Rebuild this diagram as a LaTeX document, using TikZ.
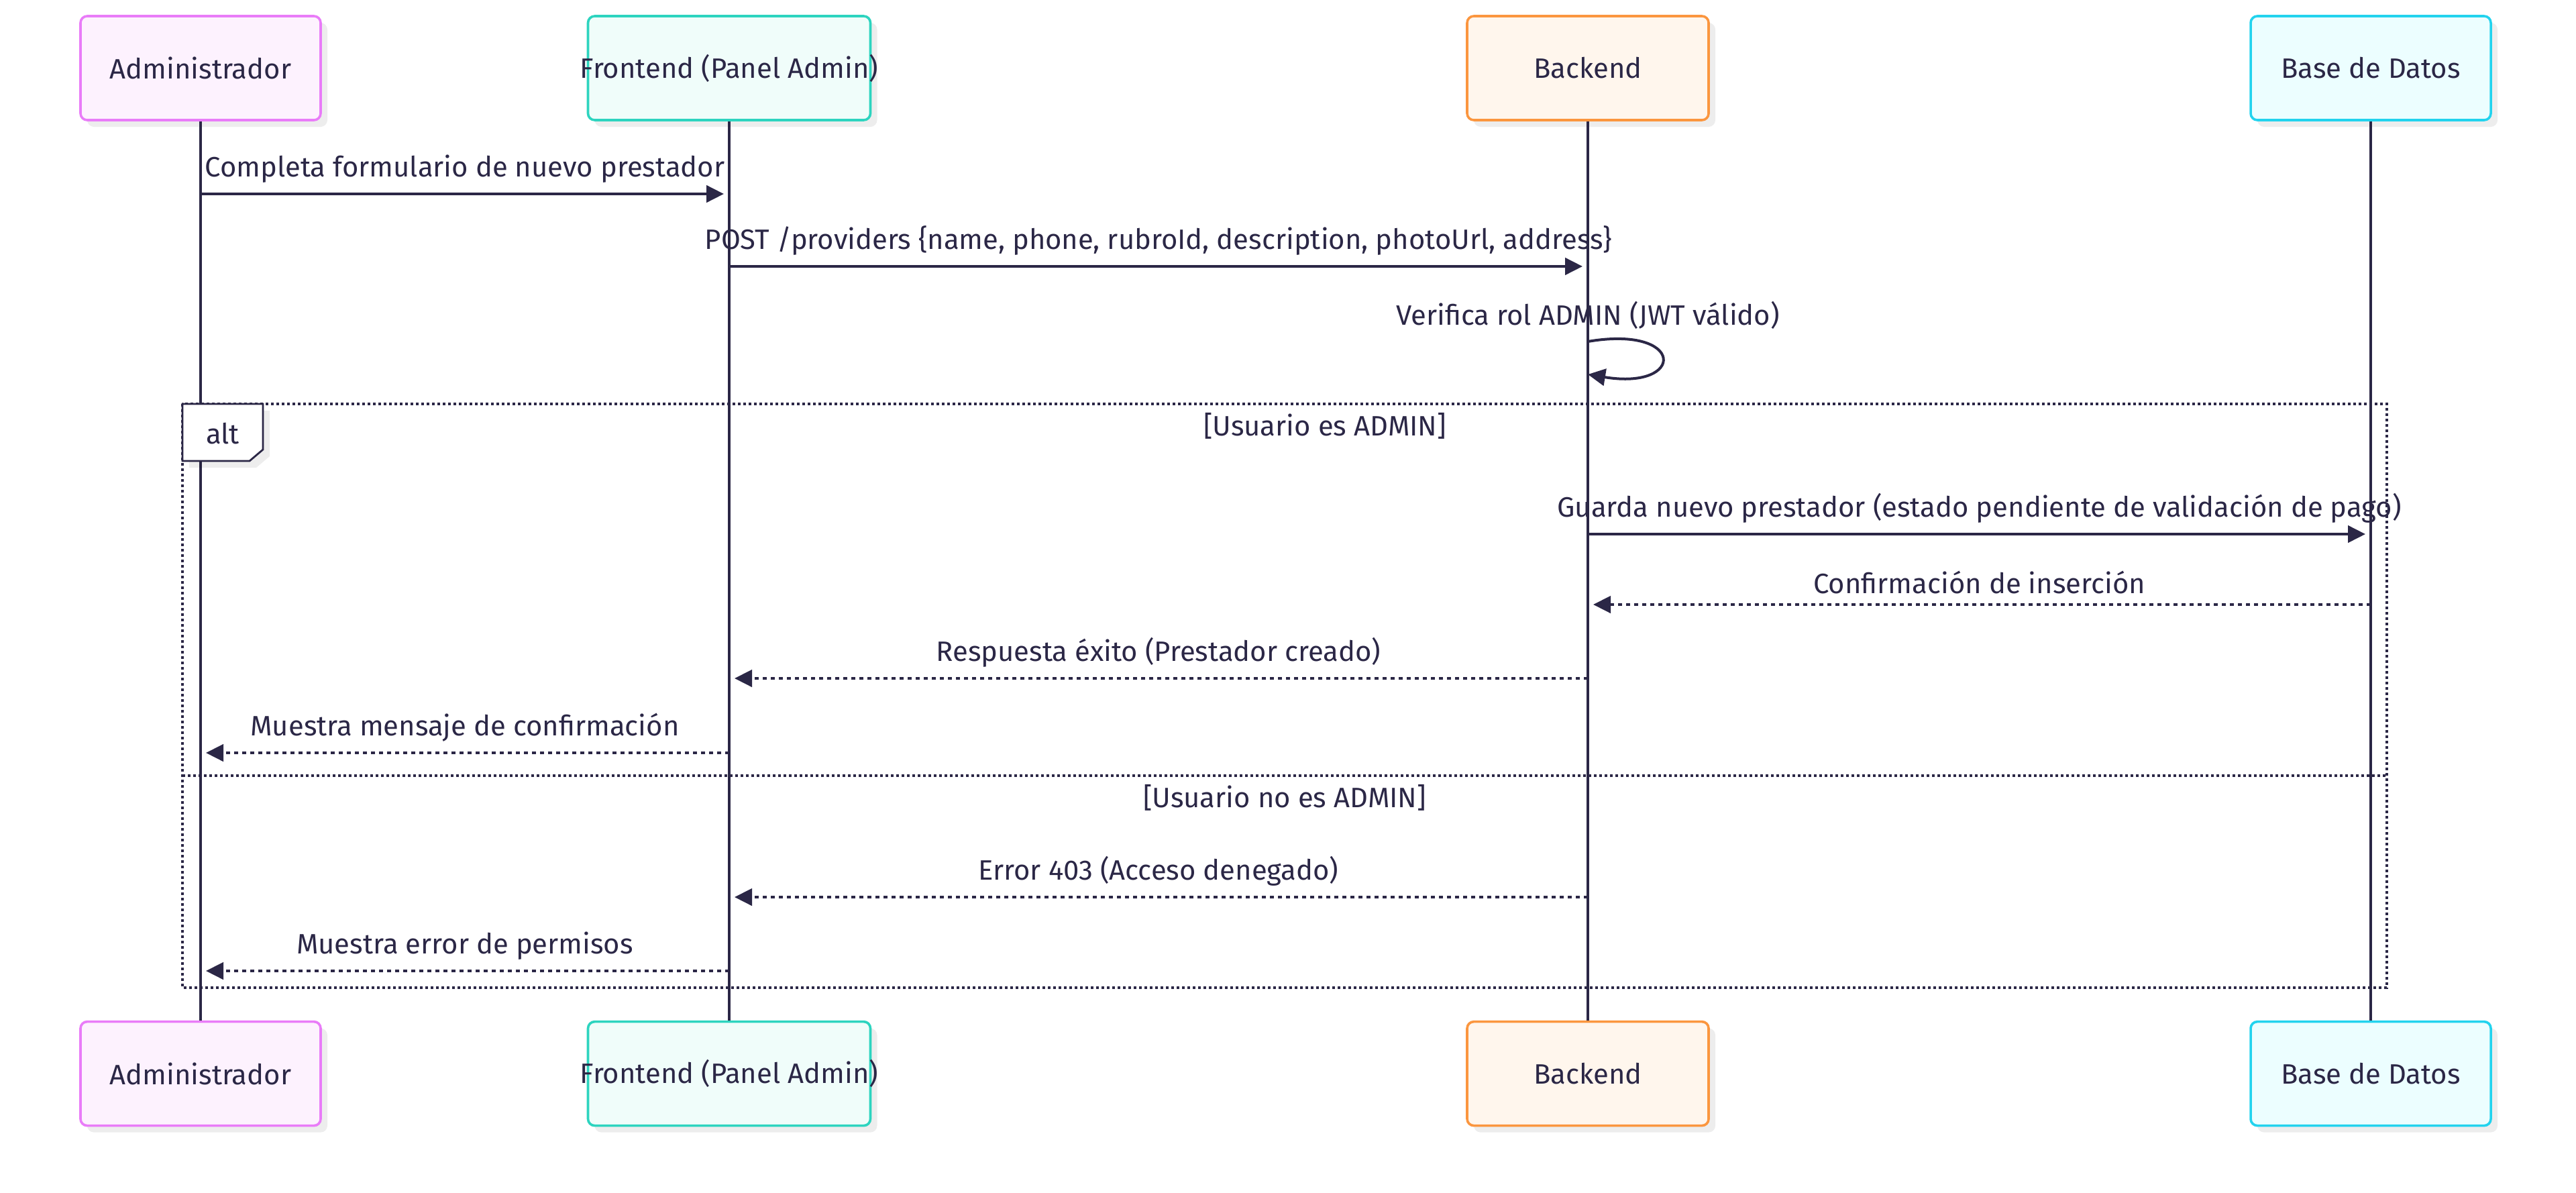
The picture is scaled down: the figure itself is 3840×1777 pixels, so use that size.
\documentclass[tikz,border=0pt]{standalone}
\usepackage{fontspec}
\setmainfont{Fira Sans}
\usepackage{tikz}
\usetikzlibrary{positioning,calc,arrows.meta,shadows}

\definecolor{ink}{HTML}{2B2746}
\definecolor{admline}{HTML}{E97CF8}
\definecolor{admfill}{HTML}{FDF2FE}
\definecolor{frontline}{HTML}{2DD4BF}
\definecolor{frontfill}{HTML}{F0FDFA}
\definecolor{backline}{HTML}{FB963F}
\definecolor{backfill}{HTML}{FFF6ED}
\definecolor{dbline}{HTML}{22D3EE}
\definecolor{dbfill}{HTML}{ECFEFF}

\begin{document}
\begin{tikzpicture}[
x=0.25pt, y=-0.25pt,
font=\fontsize{10.45}{12.5}\selectfont,
actor/.style={
draw,
rounded corners=2.5pt,
line width=0.9pt,
text=ink,
align=center,
minimum width=89.5pt,
minimum height=38.75pt,
drop shadow={shadow xshift=2.5pt, shadow yshift=-2.5pt, fill=black, opacity=0.07}
},
lifeline/.style={
draw=ink,
line width=1.1pt
},
msg/.style={
draw=ink,
line width=1pt,
-{Triangle[length=6.5pt, width=6.3pt]},
shorten >=2pt
},
reply/.style={
msg,
dash pattern=on 1.6pt off 1.4pt
},
lbl/.style={
text=ink,
inner sep=0pt,
above=3.6pt
},
frame/.style={
draw=ink,
line width=0.8pt,
dash pattern=on 1.1pt off 0.9pt
},
tagbox/.style={
draw=ink,
fill=white,
line width=0.7pt,
drop shadow={shadow xshift=2.5pt, shadow yshift=-2.5pt, fill=black, opacity=0.07}
}
]

\useasboundingbox (0,0) rectangle (3840,1777);


% Participants

\node (adm) [actor, draw=admline, fill=admfill] at (299,101.5) {Administrador};
\node (front) [actor, draw=frontline, fill=frontfill, minimum width=105.25pt] at (1087,101.5) {\makebox[0pt]{Frontend (Panel Admin)}};
\node (back) [actor, draw=backline, fill=backfill, minimum width=90pt] at (2367,101.5) {Backend};
\node (db) [actor, draw=dbline, fill=dbfill] at (3534,101.5) {Base de Datos};

\node (admB) [actor, draw=admline, fill=admfill, below=335pt of adm] {Administrador};
\node (frontB) [actor, draw=frontline, fill=frontfill, minimum width=105.25pt, below=335pt of front] {\makebox[0pt]{Frontend (Panel Admin)}};
\node (backB) [actor, draw=backline, fill=backfill, minimum width=90pt, below=335pt of back] {Backend};
\node (dbB) [actor, draw=dbline, fill=dbfill, below=335pt of db] {Base de Datos};


% Lifelines

\draw[lifeline] (adm) -- (admB);
\draw[lifeline] (front) -- (frontB);
\draw[lifeline] (back) -- (backB);
\draw[lifeline] (db) -- (dbB);


% Request

\draw[msg] (adm |- 0,289) -- (front |- 0,289)
node[lbl, midway] {Completa formulario de nuevo prestador};

\draw[msg] (front |- 0,397) -- (back |- 0,397)
node[lbl, midway] {POST /providers \{name, phone, rubroId, description, photoUrl, address\}};

\node (verif) [text=ink] at (back |- 0,470) {Verifica rol ADMIN (JWT válido)};
\draw[msg, shorten >=0pt] (back |- 0,509) .. controls (2513,484) and (2513,582) .. (back |- 0,558);


% alt

\draw[frame] (272,602) rectangle (3558,1472);
\draw[frame] (272,1156) -- (3558,1156);

\draw[tagbox] (272,602) -- (392,602) -- (392,670) -- (372,687) -- (272,687) -- cycle;
\node (alttag) [text=ink] at (332,646) {alt};

\node (case1) [text=ink] at (1975,635) {[Usuario es ADMIN]};
\node (case2) [text=ink] at (1915,1189) {[Usuario no es ADMIN]};


% Usuario es ADMIN

\draw[msg] (back |- 0,796) -- (db |- 0,796)
node[lbl, midway] {Guarda nuevo prestador (estado pendiente de validación de pago)};

\draw[reply] (db |- 0,901) -- (back |- 0,901)
node[lbl, midway] {Confirmación de inserción};

\draw[reply] (back |- 0,1011) -- (front |- 0,1011)
node[lbl, midway] {Respuesta éxito (Prestador creado)};

\draw[reply] (front |- 0,1122) -- (adm |- 0,1122)
node[lbl, midway] {Muestra mensaje de confirmación};


% Usuario no es ADMIN

\draw[reply] (back |- 0,1337) -- (front |- 0,1337)
node[lbl, midway] {Error 403 (Acceso denegado)};

\draw[reply] (front |- 0,1447) -- (adm |- 0,1447)
node[lbl, midway] {Muestra error de permisos};


\end{tikzpicture}
\end{document}
